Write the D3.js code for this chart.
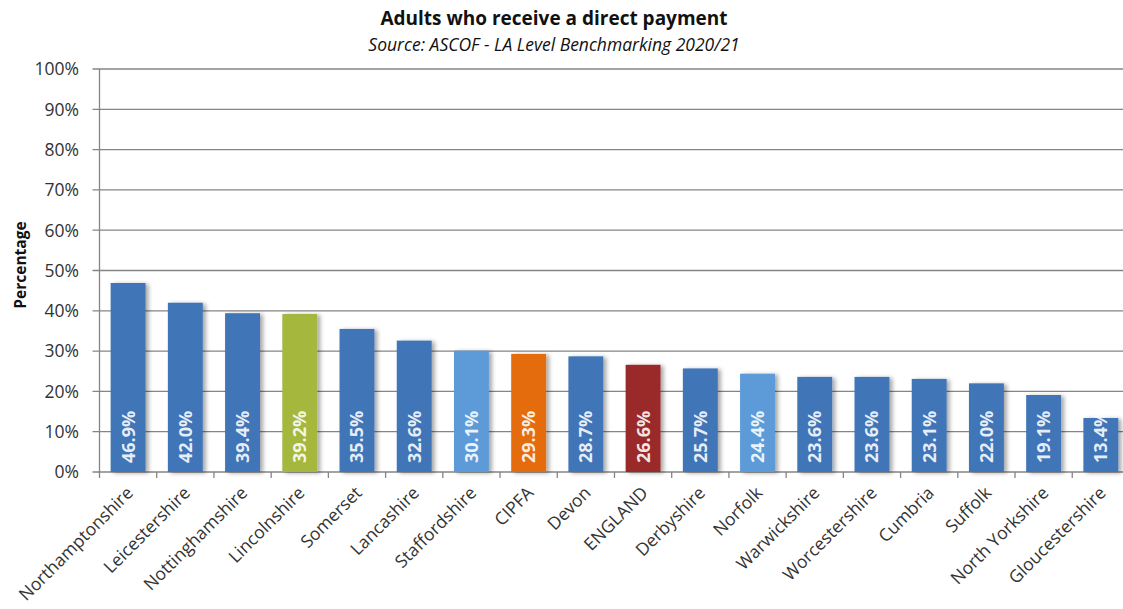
<!DOCTYPE html>
<html>
<head>
<meta charset="utf-8">
<script src="https://cdn.jsdelivr.net/npm/d3@7"></script>
<style>
  html, body { margin: 0; padding: 0; background: #fff; }
  svg { display: block; }
</style>
</head>
<body>
<svg id="chart" width="1123" height="609"></svg>
<script>
// Local authorities, ordered by share of adults receiving a direct payment
const categories = [
  "Northamptonshire", "Leicestershire", "Nottinghamshire", "Lincolnshire",
  "Somerset", "Lancashire", "Staffordshire", "CIPFA", "Devon", "ENGLAND",
  "Derbyshire", "Norfolk", "Warwickshire", "Worcestershire", "Cumbria",
  "Suffolk", "North Yorkshire", "Gloucestershire"
];
const values = [
  46.9, 42.0, 39.4, 39.2, 35.5, 32.6, 30.1, 29.3, 28.7, 26.6,
  25.7, 24.4, 23.6, 23.6, 23.1, 22.0, 19.1, 13.4
];
const yTicks = [0, 10, 20, 30, 40, 50, 60, 70, 80, 90, 100];

const title = "Adults who receive a direct payment";
const subtitle = "Source: ASCOF - LA Level Benchmarking 2020/21";
const yAxisTitle = "Percentage";

// Bar fills: default blue, with highlighted authorities and comparators
const defaultFill = "#3f74b8";
const fillFor = {
  "Lincolnshire": "#a5b83c",
  "Staffordshire": "#5b9bd8",
  "Norfolk": "#5b9bd8",
  "CIPFA": "#e46c0a",
  "ENGLAND": "#9a2c29"
};

const FONT = "'Open Sans', sans-serif";
const svg = d3.select("#chart");

const defs = svg.append("defs");
const shadow = defs.append("filter").attr("id", "barShadow")
  .attr("x", "-20%").attr("y", "-10%").attr("width", "160%").attr("height", "130%");
shadow.append("feDropShadow")
  .attr("dx", 3).attr("dy", 1).attr("stdDeviation", 2)
  .attr("flood-color", "#000").attr("flood-opacity", 0.35);

const plotLeft = 99.5, plotTop = 69, plotBottom = 472;
const bandStep = 57.22;
const pad = 0.39;

const x = d3.scaleBand()
  .domain(categories)
  .range([plotLeft, plotLeft + bandStep * categories.length])
  .paddingInner(pad)
  .paddingOuter(pad / 2);

const y = d3.scaleLinear().domain([0, 100]).range([plotBottom, plotTop]);

// Horizontal gridlines with small ticks left of the axis
const gridColor = "#858585";
svg.append("g").selectAll("line").data(yTicks).join("line")
  .attr("x1", plotLeft - 7).attr("x2", 1123)
  .attr("y1", d => y(d)).attr("y2", d => y(d))
  .attr("stroke", gridColor).attr("stroke-width", 1.3);

// Y tick labels
svg.append("g").selectAll("text").data(yTicks).join("text")
  .attr("x", 79).attr("y", d => y(d))
  .attr("dy", "0.36em")
  .attr("text-anchor", "end")
  .attr("font-family", FONT).attr("font-size", 17.5)
  .attr("fill", "#333")
  .text(d => d + "%");

// Vertical axis line
svg.append("line")
  .attr("x1", plotLeft).attr("x2", plotLeft)
  .attr("y1", plotTop).attr("y2", plotBottom + 6)
  .attr("stroke", gridColor).attr("stroke-width", 1.3);

// Category boundary ticks below the baseline
const boundaries = d3.range(1, categories.length + 1).map(i => x.range()[0] + i * x.step());
svg.append("g").selectAll("line").data(boundaries).join("line")
  .attr("x1", d => d).attr("x2", d => d)
  .attr("y1", plotBottom).attr("y2", plotBottom + 6)
  .attr("stroke", gridColor).attr("stroke-width", 1.3);

// Bars
const data = categories.map((c, i) => ({ cat: c, v: values[i] }));
svg.append("g").selectAll("rect").data(data).join("rect")
  .attr("x", d => x(d.cat))
  .attr("y", d => y(d.v))
  .attr("width", x.bandwidth())
  .attr("height", d => y(0) - y(d.v))
  .attr("fill", d => fillFor[d.cat] || defaultFill)
  .attr("filter", "url(#barShadow)");

// Value labels written up the inside of each bar
svg.append("g").selectAll("text").data(data).join("text")
  .attr("transform", d => `translate(${x(d.cat) + x.bandwidth() / 2},${plotBottom - 9}) rotate(-90)`)
  .attr("dy", "0.36em")
  .attr("text-anchor", "start")
  .attr("font-family", FONT).attr("font-size", 18).attr("font-weight", 700)
  .attr("fill", "#ffffff").attr("fill-opacity", 0.88)
  .text(d => d.v.toFixed(1) + "%");

// Category labels, slanted
svg.append("g").selectAll("text").data(categories).join("text")
  .attr("transform", d => `translate(${x(d) + x.bandwidth() / 2 + 6},${plotBottom + 22}) rotate(-45)`)
  .attr("text-anchor", "end")
  .attr("font-family", FONT).attr("font-size", 17.5)
  .attr("fill", "#333")
  .text(d => d);

// Titles
svg.append("text")
  .attr("x", 554).attr("y", 25)
  .attr("text-anchor", "middle")
  .attr("font-family", FONT).attr("font-size", 19).attr("font-weight", 700)
  .attr("fill", "#111")
  .text(title);

svg.append("text")
  .attr("x", 554).attr("y", 51)
  .attr("text-anchor", "middle")
  .attr("font-family", FONT).attr("font-size", 17.5).attr("font-style", "italic")
  .attr("fill", "#111")
  .text(subtitle);

svg.append("text")
  .attr("transform", "translate(26,265) rotate(-90)")
  .attr("text-anchor", "middle")
  .attr("font-family", FONT).attr("font-size", 15.5).attr("font-weight", 700)
  .attr("fill", "#111")
  .text(yAxisTitle);
</script>
</body>
</html>
